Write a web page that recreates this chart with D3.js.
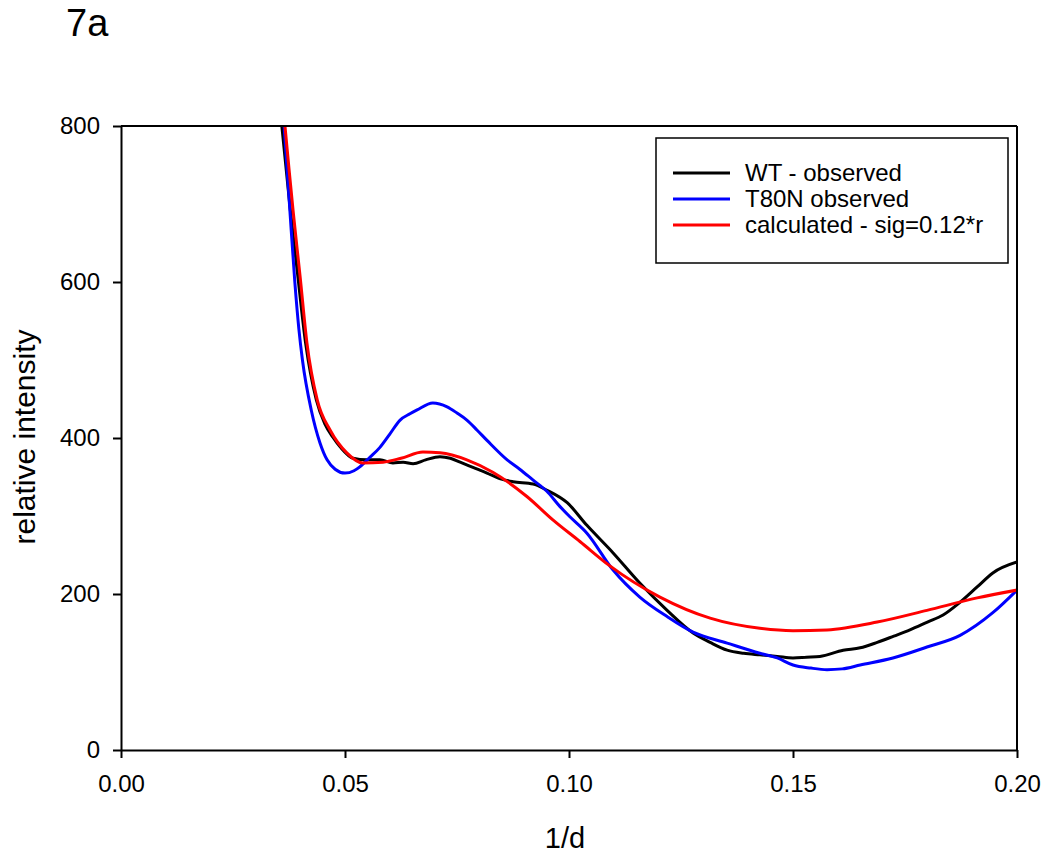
<!DOCTYPE html>
<html>
<head>
<meta charset="utf-8">
<script src="https://cdn.jsdelivr.net/npm/d3@7"></script>
<style>
  html, body { margin: 0; padding: 0; background: #fff; }
  text { font-family: Arial, "Liberation Sans", sans-serif; fill: #000; }
</style>
</head>
<body>
<svg id="chart" width="1050" height="857"></svg>
<script>
// ---- data ----
const seriesNames = ["WT - observed", "T80N observed", "calculated - sig=0.12*r"];
const seriesColors = ["#000000", "#0000ff", "#ff0000"];

const wtX = [0.0359,0.0378,0.0395,0.0412,0.0436,0.0455,0.0473,0.0490,0.0518,0.0548,0.0578,0.0607,0.0630,0.0652,0.0680,0.0712,0.0735,0.0757,0.0787,0.0817,0.0845,0.0875,0.0920,0.0951,0.0996,0.1040,0.1098,0.1158,0.1219,0.1277,0.1315,0.1353,0.1390,0.1426,0.1465,0.1500,0.1530,0.1560,0.1612,0.1650,0.1688,0.1725,0.1761,0.1800,0.1835,0.1870,0.1911,0.1946,0.2000];
const wtY = [800,692,606,522,449,418,401,388,374,372,372,368,369,367,372,376,374,369,362,355,348,344,341,333,317,288,253,214,179,150,138,128,124,122,120,118,119,120,128,131,138,146,154,164,173,188,209,227,241];

const t80nX = [0.0364,0.0376,0.0388,0.0397,0.0405,0.0425,0.0444,0.0460,0.0478,0.0500,0.0520,0.0533,0.0555,0.0578,0.0600,0.0623,0.0645,0.0661,0.0696,0.0728,0.0750,0.0772,0.0795,0.0817,0.0862,0.0890,0.0920,0.0950,0.0980,0.1002,0.1040,0.1098,0.1158,0.1219,0.1277,0.1353,0.1426,0.1465,0.1500,0.1540,0.1576,0.1610,0.1650,0.1723,0.1799,0.1873,0.1946,0.2000];
const t80nY = [800,700,600,540,500,435,394,372,360,355,358,363,375,388,405,423,431,436,445,440,432,423,410,397,372,360,346,332,312,299,278,231,196,171,151,137,124,118,109,105,103,104,109,118,132,147,176,205];

const calcX = [0.0366,0.0375,0.0384,0.0400,0.0415,0.0438,0.0467,0.0504,0.0540,0.0585,0.0625,0.0674,0.0712,0.0772,0.0830,0.0906,0.0964,0.1025,0.1089,0.1203,0.1315,0.1426,0.1500,0.1576,0.1688,0.1799,0.1911,0.2000];
const calcY = [800,745,692,606,522,449,410,381,368,369,374,382,381,372,356,325,295,267,237,196,169,156,153,154,164,179,195,205];

const xTicks = [0.00, 0.05, 0.10, 0.15, 0.20];
const yTicks = [0, 200, 400, 600, 800];
const xDomain = [0, 0.2];
const yDomain = [0, 800];

// ---- layout ----
const svg = d3.select("#chart");
const margin = {left: 121, top: 126, right: 33, bottom: 107};
const W = 1050 - margin.left - margin.right;   // 896
const H = 857 - margin.top - margin.bottom;    // 624

const x = d3.scaleLinear().domain(xDomain).range([0, W]);
const y = d3.scaleLinear().domain(yDomain).range([H, 0]);

const g = svg.append("g").attr("transform", `translate(${margin.left},${margin.top})`);

g.append("defs").append("clipPath").attr("id", "plotclip")
  .append("rect").attr("x", 0).attr("y", 0).attr("width", W).attr("height", H);

// series lines
const series = [
  {name: seriesNames[0], color: seriesColors[0], xs: wtX, ys: wtY},
  {name: seriesNames[1], color: seriesColors[1], xs: t80nX, ys: t80nY},
  {name: seriesNames[2], color: seriesColors[2], xs: calcX, ys: calcY}
];

const line = d3.line()
  .x(d => x(d[0]))
  .y(d => y(d[1]))
  .curve(d3.curveMonotoneX);

const lines = g.append("g").attr("clip-path", "url(#plotclip)");
series.forEach(s => {
  const pts = s.xs.map((v, i) => [v, s.ys[i]]);
  lines.append("path")
    .datum(pts)
    .attr("fill", "none")
    .attr("stroke", s.color)
    .attr("stroke-width", 3)
    .attr("stroke-linejoin", "round")
    .attr("d", line);
});

// frame (top & right)
g.append("line").attr("x1", 0).attr("x2", W).attr("y1", 0).attr("y2", 0)
  .attr("stroke", "#000").attr("stroke-width", 2);
g.append("line").attr("x1", W).attr("x2", W).attr("y1", 0).attr("y2", H)
  .attr("stroke", "#000").attr("stroke-width", 2);

// axes
const xAxis = g.append("g").attr("transform", `translate(0,${H})`)
  .call(d3.axisBottom(x).tickValues(xTicks).tickFormat(d3.format(".2f")).tickSize(8).tickSizeOuter(0).tickPadding(17));
const yAxis = g.append("g")
  .call(d3.axisLeft(y).tickValues(yTicks).tickFormat(d3.format("d")).tickSize(8).tickSizeOuter(0).tickPadding(13));

[xAxis, yAxis].forEach(a => {
  a.select(".domain").attr("stroke", "#000").attr("stroke-width", 2);
  a.selectAll(".tick line").attr("stroke", "#000").attr("stroke-width", 2);
  a.selectAll(".tick text").attr("font-size", 24).attr("font-family", "Arial, 'Liberation Sans', sans-serif").attr("fill", "#000");
});

// axis titles
svg.append("text")
  .attr("x", 565).attr("y", 848)
  .attr("text-anchor", "middle")
  .attr("font-size", 29)
  .text("1/d");

svg.append("text")
  .attr("transform", "translate(35,437) rotate(-90)")
  .attr("text-anchor", "middle")
  .attr("font-size", 30)
  .text("relative intensity");

// panel title
svg.append("text")
  .attr("x", 66).attr("y", 36)
  .attr("font-size", 38)
  .text("7a");

// legend
const lg = svg.append("g");
lg.append("rect")
  .attr("x", 656).attr("y", 138).attr("width", 352).attr("height", 125)
  .attr("fill", "#fff").attr("stroke", "#000").attr("stroke-width", 1.5);
series.forEach((s, i) => {
  const cy = 173 + i * 26;
  lg.append("line").attr("x1", 673).attr("x2", 730).attr("y1", cy).attr("y2", cy)
    .attr("stroke", s.color).attr("stroke-width", 3);
  lg.append("text").attr("x", 745).attr("y", cy + 8)
    .attr("font-size", 24).text(s.name);
});
</script>
</body>
</html>
